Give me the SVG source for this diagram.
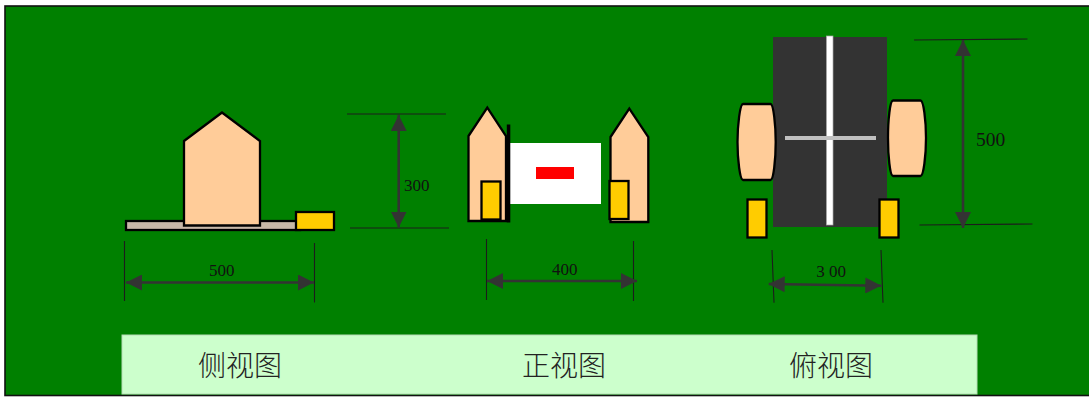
<svg xmlns="http://www.w3.org/2000/svg" width="1089" height="397" viewBox="0 0 1089 397">
<defs>
<marker id="ah" viewBox="0 0 16 16" refX="16" refY="8" markerWidth="16" markerHeight="16" markerUnits="userSpaceOnUse" orient="auto-start-reverse"><path d="M0 0L16 8L0 16Z" fill="#333"/></marker>
</defs>
<style>
.body{fill:#fc9;stroke:#000;stroke-width:2.3;stroke-linejoin:miter}
.yel{fill:#fc0;stroke:#000;stroke-width:2.3}
.ext{stroke:#1c1c1c;stroke-width:1.1;fill:none}
.dim{stroke:#333;stroke-width:2.6;fill:none;marker-start:url(#ah);marker-end:url(#ah)}
.num{font-family:"Liberation Serif",serif;font-size:17px;fill:#111;text-anchor:middle}
.cap{font-family:"Noto Sans CJK SC",sans-serif;font-size:28px;font-weight:300;fill:#222;text-anchor:middle}
</style>
<rect x="0" y="0" width="1089" height="397" fill="#fff"/>
<rect id="frame" x="5" y="6" width="1090" height="389.5" fill="#008000" stroke="#111" stroke-width="1.6"/>
<g id="side-view">
<rect x="126" y="221" width="174" height="9" fill="#c8b8a8" stroke="#000" stroke-width="2.3"/>
<path class="body" d="M184 141L222 112.5L260 141V225.5H184Z"/>
<rect class="yel" x="296" y="212" width="38" height="18"/>
</g>
<g id="front-view">
<path class="body" d="M468.5 136L487.3 107.5L506 136V221H468.5Z"/>
<rect x="510" y="143" width="91" height="61" fill="#fff"/>
<rect x="536" y="167" width="38" height="12" fill="#f00"/>
<rect x="506.8" y="124.5" width="3.5" height="98" fill="#000"/>
<rect class="yel" x="481.5" y="181.5" width="19" height="38"/>
<path class="body" d="M610.5 137L629.3 108.5L648.3 137V222H610.5Z"/>
<rect class="yel" x="609.5" y="181" width="19" height="38"/>
</g>
<g id="top-view">
<rect x="773" y="37" width="114" height="190" fill="#333"/>
<rect x="826.5" y="36" width="6.5" height="189" fill="#fff" stroke="#aaa" stroke-width="0.7"/>
<rect x="785" y="136" width="91" height="4" fill="#c0c0c0"/>
<path class="body" d="M743 104H770.5C773.5 104 775.7 125 775.7 142C775.7 160 773.5 180 770.5 180H743C740 180 737.5 160 737.5 142C737.5 125 740 104 743 104Z"/>
<path class="body" d="M893 100.5H920.5C923.5 100.5 926 120 926 138C926 156 923.5 176 920.5 176H893C890 176 888 156 888 138C888 120 890 100.5 893 100.5Z"/>
<rect class="yel" x="747.5" y="199.5" width="19" height="38"/>
<rect class="yel" x="879.5" y="199.5" width="19" height="38"/>
</g>
<g id="connectors">
<path class="ext" d="M347 114H446M350 228H449M124.5 241V301M314.5 243V302.5M486.5 239V300M633.5 241V301M772 250L774 302.7M881 250L883 302.7M914 40L1027.5 39M919.5 225L1032.5 224"/>
<path class="dim" d="M398.7 115V227.5"/>
<path class="dim" d="M126 282.5H314"/>
<path class="dim" d="M487 281H637"/>
<path class="dim" d="M768.7 284L881.3 285.7"/>
<path class="dim" d="M963 40V228"/>
</g>
<g id="labels">
<text class="num" x="416.7" y="191">300</text>
<text class="num" x="221.7" y="276">500</text>
<text class="num" x="564.7" y="275">400</text>
<text class="num" x="831" y="277.3" xml:space="preserve">3 00</text>
<text class="num" x="990.7" y="146" style="font-size:19.5px">500</text>
</g>
<g id="caption">
<rect x="122" y="335" width="855" height="59" fill="#cfc" stroke="#b5dcb5" stroke-width="1"/>
<text class="cap" x="240" y="376">侧视图</text>
<text class="cap" x="564" y="376">正视图</text>
<text class="cap" x="831" y="376">俯视图</text>
</g>
</svg>
